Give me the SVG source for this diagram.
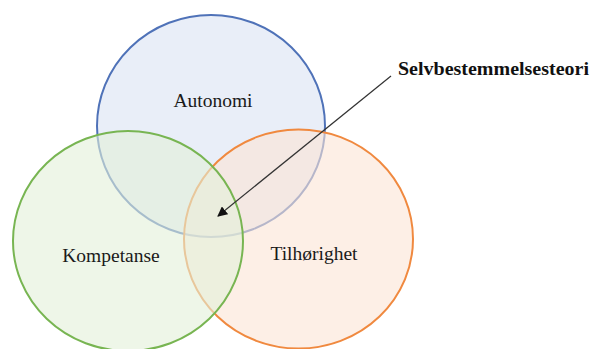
<svg xmlns="http://www.w3.org/2000/svg" width="592" height="349" viewBox="0 0 592 349">
  <style>
    .set { stroke-width: 2; fill-opacity: 0.6; }
    .blue { fill: #dae3f3; stroke: #4f72b8; }
    .orange { fill: #fbe5d6; stroke: #f0893f; }
    .green { fill: #e2f0d9; stroke: #78b552; }
    .label { font-family: "Liberation Serif", "Times New Roman", serif; font-size: 19.5px; fill: #1a1a1a; text-anchor: middle; }
    .title { font-family: "Liberation Serif", "Times New Roman", serif; font-size: 19.5px; font-weight: bold; fill: #111; }
    .pointer { stroke: #333; stroke-width: 1.2; fill: none; }
  </style>
  <defs>
    <marker id="arrowhead" viewBox="0 0 10 10" refX="9" refY="5" markerWidth="10" markerHeight="10" markerUnits="userSpaceOnUse" orient="auto">
      <path d="M0,0 L10,5 L0,10 z" fill="#111"/>
    </marker>
  </defs>
  <rect width="592" height="349" fill="#ffffff"/>

  <g id="autonomi">
    <ellipse class="set blue" cx="211" cy="126" rx="114" ry="111"/>
    <text class="label" x="213" y="107">Autonomi</text>
  </g>
  <g id="tilhorighet">
    <ellipse class="set orange" cx="298.5" cy="239" rx="114.5" ry="109.5"/>
    <text class="label" x="314" y="260">Tilhørighet</text>
  </g>
  <g id="kompetanse">
    <ellipse class="set green" cx="128" cy="241" rx="115" ry="110"/>
    <text class="label" x="111" y="262">Kompetanse</text>
  </g>

  <g id="connectors">
    <line class="pointer" x1="391" y1="76" x2="218" y2="216" marker-end="url(#arrowhead)"/>
  </g>

  <g id="selvbestemmelsesteori">
    <text class="title" x="398" y="75" textLength="191" lengthAdjust="spacingAndGlyphs">Selvbestemmelsesteori</text>
  </g>
</svg>
